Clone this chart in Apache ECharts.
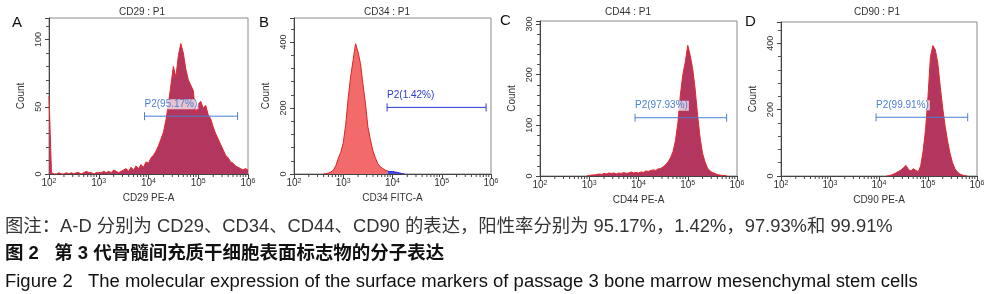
<!DOCTYPE html>
<html><head><meta charset="utf-8">
<script src="https://cdn.jsdelivr.net/npm/echarts@6/dist/echarts.min.js"></script>
<style>html,body{margin:0;padding:0;background:#fff}#c{width:990px;height:294px}</style>
</head><body><div id="c"></div>
<script>
// Bin centres on log10 scale (10^2 .. 10^6)
const binLog = [
  2.00,2.05,2.10,2.15,2.20,2.25,2.30,2.35,2.40,2.45,
  2.50,2.55,2.60,2.65,2.70,2.75,2.80,2.85,2.90,2.95,
  3.00,3.05,3.10,3.15,3.20,3.25,3.30,3.35,3.40,3.45,
  3.50,3.55,3.60,3.65,3.70,3.75,3.80,3.85,3.90,3.95,
  4.00,4.05,4.10,4.15,4.20,4.25,4.30,4.35,4.40,4.45,
  4.50,4.55,4.60,4.65,4.70,4.75,4.80,4.85,4.90,4.95,
  5.00,5.05,5.10,5.15,5.20,5.25,5.30,5.35,5.40,5.45,
  5.50,5.55,5.60,5.65,5.70,5.75,5.80,5.85,5.90,5.95,
  6.00
];
const cd29Count = [
  58,1,0,0,1,0,0,1,0,1,
  0,1,1,0,1,2,1,1,0,1,
  1,1,2,1,2,1,3,2,1,2,
  3,4,2,5,3,6,4,7,5,9,
  8,12,14,17,21,26,31,40,52,66,
  80,72,88,97,90,78,70,66,62,45,
  52,54,49,51,44,41,35,30,26,22,
  18,14,12,9,8,6,5,4,3,4,
  3
];
const cd34Count = [
  0,0,0,0,0,0,0,0,0,0,
  0,0,0,1,3,6,12,25,48,66,
  95,150,230,295,345,395,370,335,272,215,
  143,105,72,50,32,22,17,12,9,7,
  8,6,5,3,1,0,0,0,0,0,
  0,0,0,0,0,0,0,0,0,0,
  0,0,0,0,0,0,0,0,0,0,
  0,0,0,0,0,0,0,0,0,0,
  0
];
const cd44Count = [
  0,0,0,0,0,0,0,0,0,0,
  0,0,0,0,0,0,0,0,0,0,
  1,2,2,3,4,3,5,4,6,5,
  6,4,6,5,7,5,6,8,6,7,
  6,8,7,10,9,11,12,11,14,15,
  18,22,28,36,48,70,105,160,200,225,
  258,238,212,172,120,76,45,28,16,10,
  7,5,3,2,1,1,0,0,0,0,
  0
];
const cd90Count = [
  0,0,0,0,0,0,0,0,0,0,
  0,0,0,0,0,0,0,0,0,0,
  0,0,0,0,0,0,0,0,0,0,
  0,0,0,0,0,0,0,0,0,0,
  0,0,0,0,1,3,6,10,14,18,
  25,32,20,15,22,17,13,30,75,140,
  240,360,393,380,340,270,205,150,105,68,
  40,22,12,6,3,1,0,0,0,0,
  0
];
// P2 gates: [left log, right log, count level]
const gateCD29 = [3.92, 5.79, 43];
const gateCD34 = [3.89, 5.90, 202];
const gateCD44 = [3.93, 5.79, 115];
const gateCD90 = [3.94, 5.81, 177];
const gateLabels = ['P2(95.17%)', 'P2(1.42%)', 'P2(97.93%)', 'P2(99.91%)'];
const panelTitles = ['CD29 : P1', 'CD34 : P1', 'CD44 : P1', 'CD90 : P1'];
const xNames = ['CD29 PE-A', 'CD34 FITC-A', 'CD44 PE-A', 'CD90 PE-A'];
const panelLetters = ['A', 'B', 'C', 'D'];
const yMax = [116, 473, 306, 464];
const yStep = [50, 200, 100, 200];
const caption1 = '图注：A-D 分别为 CD29、CD34、CD44、CD90 的表达，阳性率分别为 95.17%，1.42%，97.93%和 99.91%';
const caption2 = '图 2   第 3 代骨髓间充质干细胞表面标志物的分子表达';
const caption3 = 'Figure 2   The molecular expression of the surface markers of passage 3 bone marrow mesenchymal stem cells';

const grids = [
  {left: 49, top: 18, width: 199, height: 156},
  {left: 294, top: 18, width: 197, height: 156},
  {left: 540, top: 21, width: 197, height: 155},
  {left: 781, top: 22, width: 196, height: 154}
];
const titleX = [142, 387, 628, 877];
const letterPos = [[12, 15], [259, 15], [500, 13], [745, 14]];

function pairs(counts, from, to) {
  let first = counts.findIndex(v => v > 0);
  let last = counts.length - 1;
  while (last > 0 && counts[last] === 0) last--;
  first = Math.max(0, first - 1);
  last = Math.min(counts.length - 1, last + 1);
  if (from !== undefined) first = Math.max(first, from);
  if (to !== undefined) last = Math.min(last, to);
  const out = [];
  for (let i = first; i <= last; i++) out.push([binLog[i], counts[i]]);
  return out;
}
// log-decade minor tick positions (2..9 x 10^n)
const minorVals = [];
for (let n = 2; n < 6; n++) for (let k = 2; k <= 9; k++) minorVals.push([n + Math.log10(k)]);

const FONT = '"Liberation Sans", Arial, sans-serif';
const CJK = '"Liberation Sans", "Noto Sans CJK SC", sans-serif';
const xAxes = [], yAxes = [];
grids.forEach((g, i) => {
  xAxes.push({
    type: 'value', gridIndex: i, min: 2, max: 6, interval: 1,
    name: xNames[i], nameLocation: 'middle', nameGap: 13,
    nameTextStyle: {fontSize: 10, color: '#333', fontFamily: FONT},
    axisLine: {show: true, lineStyle: {color: '#444', width: 1}},
    axisTick: {show: true, length: 5, lineStyle: {color: '#444'}},
    splitLine: {show: false},
    axisLabel: {
      margin: 4, color: '#333',
      formatter: v => '{b|10}{s|' + Math.round(v) + '}',
      rich: {
        b: {fontSize: 10, color: '#333', fontFamily: FONT, verticalAlign: 'bottom'},
        s: {fontSize: 7, color: '#333', fontFamily: FONT, verticalAlign: 'top'}
      }
    }
  });
  yAxes.push({
    type: 'value', gridIndex: i, min: 0, max: yMax[i], interval: yStep[i],
    name: 'Count', nameLocation: 'middle', nameGap: 23,
    nameTextStyle: {fontSize: 10, color: '#333', fontFamily: FONT},
    axisLine: {show: true, lineStyle: {color: '#444'}},
    axisTick: {show: true, length: 4, lineStyle: {color: '#444'}},
    minorTick: {show: true, splitNumber: 5, length: 3, lineStyle: {color: '#555'}},
    splitLine: {show: false},
    axisLabel: {rotate: 90, margin: 6, fontSize: 9, color: '#333', fontFamily: FONT,
      showMaxLabel: false}
  });
});

const gates = [gateCD29, gateCD34, gateCD44, gateCD90];
const gateColors = ['#4a7fd6', '#2b3bd0', '#4a7fd6', '#4a7fd6'];
const series = [];
const fillStyle = [
  {line: '#e8262b', area: '#b3365f'},
  {line: '#d82626', area: '#f26a6a'},
  {line: '#e8262b', area: '#b3365f'},
  {line: '#e8262b', area: '#b3365f'}
];
const counts = [cd29Count, cd34Count, cd44Count, cd90Count];
counts.forEach((c, i) => {
  const data = i === 1 ? pairs(c, undefined, 38) : pairs(c);
  series.push({
    type: 'line', xAxisIndex: i, yAxisIndex: i, data: data,
    symbol: 'none', showSymbol: false, animation: false,
    lineStyle: {color: fillStyle[i].line, width: 1},
    areaStyle: {color: fillStyle[i].area, opacity: 1}, z: 2
  });
});
series.push({
  type: 'line', xAxisIndex: 1, yAxisIndex: 1, data: pairs(cd34Count, 38),
  symbol: 'none', showSymbol: false, animation: false,
  lineStyle: {color: '#2a2ad0', width: 1},
  areaStyle: {color: '#4a4ae0', opacity: 1}, z: 2
});
gates.forEach((gt, i) => {
  series.push({
    type: 'custom', xAxisIndex: i, yAxisIndex: i, animation: false, z: 5,
    data: [gt], encode: {x: [0, 1], y: 2},
    renderItem: (params, api) => {
      const p1 = api.coord([api.value(0), api.value(2)]);
      const p2 = api.coord([api.value(1), api.value(2)]);
      const st = {stroke: gateColors[i], lineWidth: 1};
      return {type: 'group', children: [
        {type: 'line', shape: {x1: p1[0], y1: p1[1], x2: p2[0], y2: p2[1]}, style: st},
        {type: 'line', shape: {x1: p1[0], y1: p1[1] - 4, x2: p1[0], y2: p1[1] + 4}, style: st},
        {type: 'line', shape: {x1: p2[0], y1: p2[1] - 4, x2: p2[0], y2: p2[1] + 4}, style: st},
        {type: 'text', x: p1[0], y: p1[1] - 7, style: {
          text: gateLabels[i], fill: gateColors[i], fontSize: 10, fontFamily: FONT,
          align: 'left', verticalAlign: 'bottom',
          backgroundColor: i === 1 ? 'transparent' : 'rgba(255,255,255,0.7)',
          padding: [0, 1, 0, 0]
        }}
      ]};
    }
  });
  // minor log ticks below the x axis
  series.push({
    type: 'custom', xAxisIndex: i, yAxisIndex: i, animation: false, z: 6, clip: false,
    data: minorVals, encode: {x: 0},
    renderItem: (params, api) => {
      const p = api.coord([api.value(0), 0]);
      return {type: 'line', shape: {x1: p[0], y1: p[1], x2: p[0], y2: p[1] + 3},
        style: {stroke: '#444', lineWidth: 1}};
    }
  });
});

const graphics = [];
panelTitles.forEach((t, i) => graphics.push({
  type: 'text', x: titleX[i], y: 12, style: {text: t, fontSize: 10, fill: '#333',
  fontFamily: FONT, align: 'center', verticalAlign: 'middle'}
}));
panelLetters.forEach((t, i) => graphics.push({
  type: 'text', x: letterPos[i][0], y: letterPos[i][1], style: {text: t, fontSize: 15,
  fill: '#111', fontFamily: FONT}
}));
graphics.push({type: 'text', x: 5, y: 227, scaleX: 1.02, style: {text: caption1, fontSize: 18, fill: '#333',
  fontFamily: CJK, verticalAlign: 'middle'}});
graphics.push({type: 'text', x: 5, y: 254, scaleX: 1.026, style: {text: caption2, fontSize: 18, fill: '#111',
  fontWeight: 'bold', fontFamily: CJK, verticalAlign: 'middle'}});
graphics.push({type: 'text', x: 5, y: 282, scaleX: 1.025, style: {text: caption3, fontSize: 18, fill: '#111',
  fontFamily: FONT, verticalAlign: 'middle'}});

const chart = echarts.init(document.getElementById('c'), null, {renderer: 'canvas'});
chart.setOption({
  animation: false,
  backgroundColor: '#fff',
  grid: grids.map(g => Object.assign({show: true, borderColor: '#8a8a8a', borderWidth: 1,
    backgroundColor: 'transparent'}, g)),
  xAxis: xAxes, yAxis: yAxes, series: series, graphic: graphics
});
</script></body></html>
